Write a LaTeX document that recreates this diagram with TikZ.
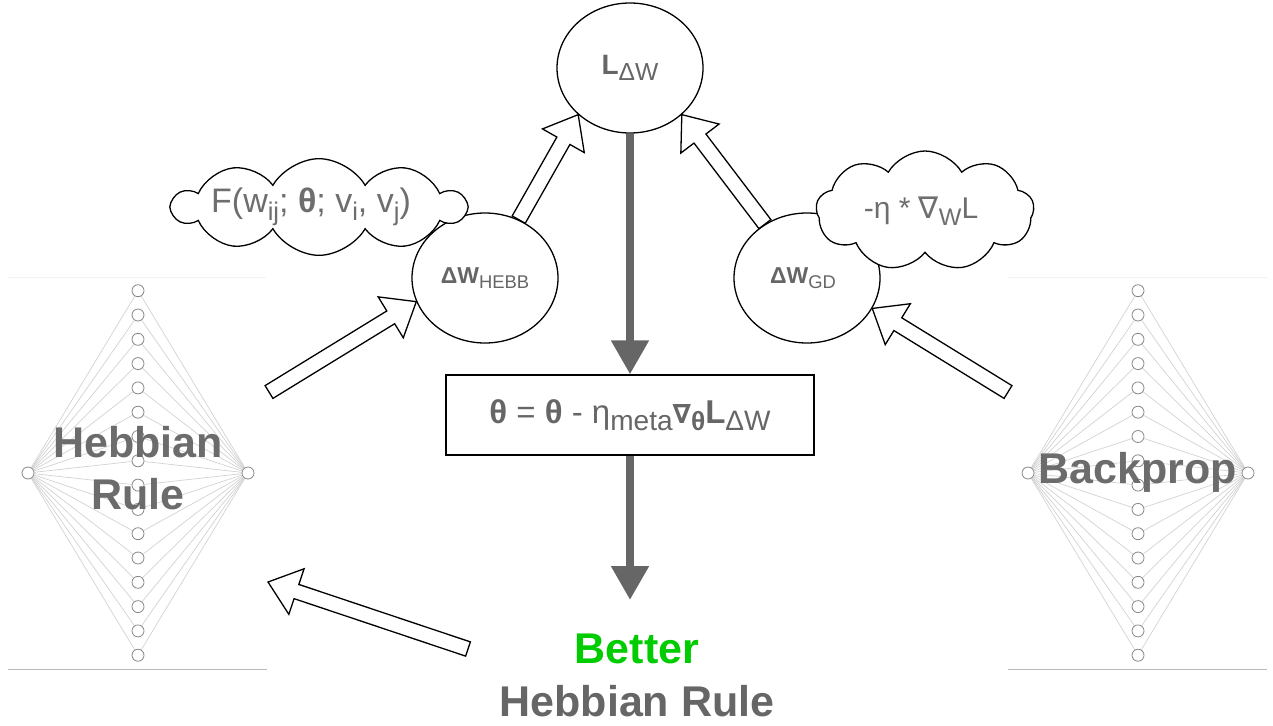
\documentclass[tikz,border=0pt]{standalone}
\usepackage{fontspec}
\setmainfont{Liberation Sans}
\newfontfamily\dv{DejaVu Sans}
\usetikzlibrary{shapes.geometric,shapes.symbols,arrows.meta,calc,backgrounds}
\definecolor{txt}{HTML}{666666}
\definecolor{ftxt}{HTML}{6E6E6E}
\definecolor{better}{RGB}{0,204,0}
\definecolor{netline}{HTML}{D2D2D2}
\definecolor{netnode}{HTML}{888888}
\definecolor{thick}{HTML}{666666}
\newcommand\lo[2][0.8]{\raisebox{-0.22em}{\scalebox{#1}{#2}}}
\newcommand\blockarr[2]{%
  \draw[blockarrow] let \p1=(#1), \p2=(#2),
    \n1={atan2(\y2-\y1,\x2-\x1)}, \n2={veclen(\x2-\x1,\y2-\y1)} in
    [shift={(\p1)}, rotate=\n1]
    (0pt,-7.5pt) -- ({\n2*1pt-30pt},-7.5pt) -- ({\n2*1pt-30pt},-24pt) -- ({\n2*1pt},0pt)
    -- ({\n2*1pt-30pt},24pt) -- ({\n2*1pt-30pt},7.5pt) -- (0pt,7.5pt) -- cycle;}
\begin{document}
\begin{tikzpicture}[x=1pt,y=-1pt,
  circ/.style={draw, line width=1.3pt, ellipse, inner sep=0pt, minimum width=146pt, minimum height=130pt, text=txt},
  cloudbox/.style={draw, line width=1.3pt, fill=white, cloud, cloud ignores aspect, inner sep=0pt, text=ftxt},
  blockarrow/.style={draw=black, line width=1.3pt, fill=white, line join=miter},
  thickarrow/.style={draw=thick, line width=8pt, -{Triangle[width=36pt,length=34pt]}},
  nn/.style={circle, draw=netnode, fill=white, line width=0.8pt, minimum size=12pt, inner sep=0pt},
  netl/.style={draw=netline, line width=0.7pt},
  biglabel/.style={text=txt, font=\fontsize{43}{52}\selectfont\bfseries, align=center}]
\useasboundingbox (0,0) rectangle (1273,725);

% ---------- networks ----------
\node[nn] (hin) at (28,473) {};
\node[nn] (hout) at (248,473) {};
\node[nn] (bin) at (1028,473) {};
\node[nn] (bout) at (1248,473) {};
\foreach \i in {0,...,15} {
  \node[nn] (hh\i) at (138,{290.7+24.3*\i}) {};
  \node[nn] (bh\i) at (1138,{290.7+24.3*\i}) {};
}
\coordinate (hl1) at (8,277); \coordinate (hl2) at (266,277);
\coordinate (hb1) at (8,669); \coordinate (hb2) at (267,669);
\coordinate (bl1) at (1008,277); \coordinate (bl2) at (1267,277);
\coordinate (bb1) at (1008,669); \coordinate (bb2) at (1267,669);
\begin{scope}[on background layer]
  \foreach \i in {0,...,15} {
    \draw[netl] (hin) -- (hh\i) -- (hout);
    \draw[netl] (bin) -- (bh\i) -- (bout);
  }
  \draw[draw=black!5, line width=0.8pt] (hl1) -- (hl2);
  \draw[draw=black!5, line width=0.8pt] (bl1) -- (bl2);
  \draw[draw=black!27, line width=1pt] (hb1) -- (hb2);
  \draw[draw=black!27, line width=1pt] (bb1) -- (bb2);
\end{scope}
\node[biglabel, text opacity=0.96] (hebblabel) at (138,468) {Hebbian\\Rule};
\node[biglabel, anchor=base, text opacity=0.96] (bplabel) at (1138,483) {Backprop};

% ---------- central nodes ----------
\node[circ, font=\fontsize{28}{34}\selectfont] (L) at (630,68) {{\bfseries L}\lo[0.88]{ΔW}};
\node[circ, font=\fontsize{23}{28}\selectfont] (hebb) at (485,278) {{\bfseries ΔW}\lo{HEBB}};
\node[circ, font=\fontsize{23}{28}\selectfont] (gd) at (807,278) {\hspace*{-8pt}{\bfseries ΔW}\lo{GD}};

\node[cloudbox, cloud puffs=10, cloud puff arc=120, minimum width=292pt, minimum height=90pt,
      font=\fontsize{34}{40}\selectfont] (cl) at (319,207)
      {\hspace*{-16pt}F(w\lo[0.75]{ij}; {\bfseries θ}; v\lo[0.75]{i}, v\lo[0.75]{j})};
\node[cloudbox, cloud puffs=9, cloud puff arc=120, minimum width=218pt, minimum height=120pt,
      font=\fontsize{30}{36}\selectfont] (cr) at (925,211)
      {\hspace*{-8pt}-η * {\dv ∇}\lo[0.8]{W}L};

\node[draw, line width=1.3pt, minimum width=368pt, minimum height=80pt, inner sep=0pt, text=txt,
      font=\fontsize{33}{38}\selectfont] (upd) at (630,415)
      {{\bfseries θ} = {\bfseries θ} - η\lo[0.85]{meta}{\dv\bfseries\scalebox{0.8}{∇}}\lo[0.8]{\bfseries θ}{\bfseries L}\lo[0.85]{ΔW}};

\node[font=\fontsize{43}{53}\selectfont\bfseries, text=txt, align=center] (better) at (637,675.5)
      {\textcolor{better}{Better}\\Hebbian Rule};
\coordinate (bt) at (630,600);

% ---------- thick arrows ----------
\draw[thickarrow] (L.south) -- (upd.north);
\draw[thickarrow] (upd.south) -- (bt);

% ---------- block arrows ----------
\coordinate (a3s) at (269,392);
\coordinate (a4s) at (1008,392);
\coordinate (a5s) at (468,649);
\coordinate (a5e) at (268,582);
\begin{scope}[on background layer]
  \blockarr{hebb.60}{L.222}
  \blockarr{gd.128}{L.318}
  \blockarr{a3s}{hebb.199}
  \blockarr{a4s}{gd.335}
  \blockarr{a5s}{a5e}
\end{scope}
\end{tikzpicture}
\end{document}
